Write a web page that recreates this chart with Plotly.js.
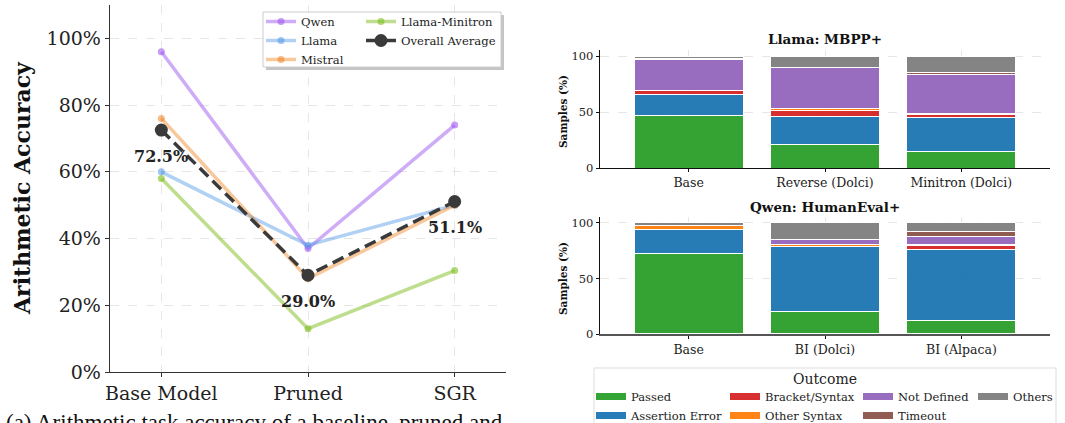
<!DOCTYPE html>
<html>
<head>
<meta charset="utf-8">
<script src="https://cdn.plot.ly/plotly-3.0.1.min.js"></script>
<style>
html,body{margin:0;padding:0;background:#fff;}
#chart{width:1065px;height:423px;}
</style>
</head>
<body>
<div id="chart"></div>
<script>
// ---------- Left panel: arithmetic accuracy ----------
const lineCats = ['Base Model', 'Pruned', 'SGR'];
const qwenAcc = [96, 37, 74];
const llamaAcc = [60, 38, 50];
const mistralAcc = [76, 28, 50];
const minitronAcc = [58, 13, 30.4];
const overallAvg = [72.5, 29.0, 51.1];
const pctTicks = [0, 20, 40, 60, 80, 100];

// ---------- Right panels: outcome breakdown ----------
const llamaCats = ['Base', 'Reverse (Dolci)', 'Minitron (Dolci)'];
const qwenCats = ['Base', 'BI (Dolci)', 'BI (Alpaca)'];
const outcomeNames = ['Passed', 'Assertion Error', 'Bracket/Syntax', 'Other Syntax', 'Not Defined', 'Timeout', 'Others'];
const outcomeColors = ['#2ca02c', '#1f77b4', '#d62728', '#ff7f0e', '#9467bd', '#8c564b', '#7f7f7f'];
const outcomeLegend = ['legend2', 'legend2', 'legend3', 'legend3', 'legend4', 'legend4', 'legend5'];

const llamaPassed = [47, 21, 14.5];
const llamaAssertion = [19, 25, 30.5];
const llamaBracket = [3, 5, 2.5];
const llamaOtherSyntax = [0.5, 2, 1];
const llamaNotDefined = [27.5, 36.5, 35];
const llamaTimeout = [0.5, 0.5, 1.5];
const llamaOthers = [2.5, 10, 15];

const qwenPassed = [72.5, 20, 12.5];
const qwenAssertion = [22, 58.5, 64];
const qwenBracket = [0, 0, 3.5];
const qwenOtherSyntax = [3, 2, 0.5];
const qwenNotDefined = [0, 4.5, 7];
const qwenTimeout = [0, 0, 5];
const qwenOthers = [2.5, 15, 7.5];

const llamaSeries = [llamaPassed, llamaAssertion, llamaBracket, llamaOtherSyntax, llamaNotDefined, llamaTimeout, llamaOthers];
const qwenSeries = [qwenPassed, qwenAssertion, qwenBracket, qwenOtherSyntax, qwenNotDefined, qwenTimeout, qwenOthers];

const SERIF = 'DejaVu Serif, serif';
const W = 1065, H = 423;
const px = v => v / W;
const py = v => 1 - v / H;

const traces = [];
function lineTrace(name, y, color, mcolor, legendId) {
  return {
    type: 'scatter', mode: 'lines+markers', name: name,
    x: [0, 1, 2], y: y, xaxis: 'x', yaxis: 'y',
    line: {color: color, width: 3.5},
    marker: {color: mcolor, size: 7},
    legend: legendId, hoverinfo: 'skip'
  };
}
traces.push(lineTrace('Qwen', qwenAcc, 'rgba(160,90,240,0.5)', 'rgba(160,90,240,0.6)', 'legend'));
traces.push(lineTrace('Llama', llamaAcc, 'rgba(80,150,230,0.45)', 'rgba(80,150,230,0.55)', 'legend'));
traces.push(lineTrace('Mistral', mistralAcc, 'rgba(240,130,30,0.45)', 'rgba(240,130,30,0.55)', 'legend'));
traces.push(lineTrace('Llama-Minitron', minitronAcc, 'rgba(125,190,30,0.5)', 'rgba(125,190,30,0.6)', 'legend6'));
traces.push({
  type: 'scatter', mode: 'lines+markers', name: 'Overall Average',
  x: [0, 1, 2], y: overallAvg, xaxis: 'x', yaxis: 'y',
  line: {color: '#3a3a3a', width: 3.5, dash: '12px,6px'},
  marker: {color: '#3a3a3a', size: 13},
  legend: 'legend6', hoverinfo: 'skip'
});

outcomeNames.forEach((name, i) => {
  traces.push({
    type: 'bar', name: name, x: llamaCats, y: llamaSeries[i],
    xaxis: 'x2', yaxis: 'y2', width: 0.8,
    marker: {color: outcomeColors[i], line: {color: 'white', width: 1}},
    opacity: 0.96, showlegend: false, hoverinfo: 'skip'
  });
  traces.push({
    type: 'bar', name: name, x: qwenCats, y: qwenSeries[i],
    xaxis: 'x3', yaxis: 'y3', width: 0.8,
    marker: {color: outcomeColors[i], line: {color: 'white', width: 1}},
    opacity: 0.96, showlegend: false, hoverinfo: 'skip'
  });
});
// legend-only entries (rectangular swatches) for the outcome legend
outcomeNames.forEach((name, i) => {
  traces.push({
    type: 'scatter', mode: 'lines', name: name, x: [null], y: [null],
    xaxis: 'x2', yaxis: 'y2',
    line: {color: outcomeColors[i], width: 7},
    opacity: 0.96, legend: outcomeLegend[i], showlegend: true, hoverinfo: 'skip'
  });
});

const gridCommon = {showgrid: true, gridcolor: '#e6e6e6', griddash: 'dash', gridwidth: 1, zeroline: false};

function paperText(x, y, text, size, extra) {
  return Object.assign({
    xref: 'paper', yref: 'paper', x: px(x), y: py(y),
    xanchor: 'center', yanchor: 'middle',
    text: text, showarrow: false,
    font: {family: SERIF, size: size, color: '#111'}
  }, extra || {});
}

const annotations = [];
overallAvg.forEach((v, i) => {
  annotations.push({
    xref: 'x', yref: 'y', x: i, y: v, yshift: -26,
    xanchor: 'center', yanchor: 'middle',
    text: '<b>' + v.toFixed(1) + '%</b>', showarrow: false,
    font: {family: SERIF, size: 16, color: '#222'}
  });
});
annotations.push(paperText(22, 188, '<b>Arithmetic Accuracy</b>', 22, {textangle: -90}));
annotations.push(paperText(825, 39, '<b>Llama: MBPP+</b>', 13.5));
annotations.push(paperText(825, 207, '<b>Qwen: HumanEval+</b>', 13.5));
annotations.push(paperText(563, 112, '<b>Samples (%)</b>', 10.5, {textangle: -90}));
annotations.push(paperText(563, 279, '<b>Samples (%)</b>', 10.5, {textangle: -90}));
annotations.push(paperText(825, 379, 'Outcome', 14, {font: {family: SERIF, size: 14, color: '#222'}}));
annotations.push(paperText(4, 408, '(a) Arithmetic task accuracy of a baseline, pruned and', 23, {
  xanchor: 'left', yanchor: 'top',
  font: {family: 'Liberation Serif, serif', size: 23, color: '#111'}
}));

const rightX = {
  ...gridCommon, showline: true, linecolor: '#111', linewidth: 1.3,
  ticks: 'outside', ticklen: 3, tickcolor: '#111',
  tickfont: {family: SERIF, size: 12.5, color: '#222'},
  range: [-0.65, 2.65]
};
const rightY = {
  ...gridCommon, showline: true, linecolor: '#111', linewidth: 1.3,
  ticks: 'outside', ticklen: 3, tickcolor: '#111',
  tickvals: [0, 50, 100], range: [0, 105],
  tickfont: {family: SERIF, size: 11.5, color: '#222'}
};

function legendAt(x, y, size) {
  return {
    x: px(x), y: py(y), xanchor: 'left', yanchor: 'top',
    orientation: 'v', bgcolor: 'rgba(0,0,0,0)', borderwidth: 0,
    font: {family: SERIF, size: size, color: '#222'},
    traceorder: 'normal', itemwidth: 30
  };
}

const layout = {
  width: W, height: H,
  margin: {l: 0, r: 0, t: 0, b: 0, autoexpand: false},
  paper_bgcolor: 'white', plot_bgcolor: 'white',
  barmode: 'stack', bargap: 0.2,
  font: {family: SERIF, color: '#222'},
  xaxis: {
    ...gridCommon, domain: [px(110), px(506)], range: [-0.35, 2.35],
    tickvals: [0, 1, 2], ticktext: lineCats,
    showline: true, linecolor: '#333', linewidth: 1.3,
    ticks: 'outside', ticklen: 4, tickcolor: '#333',
    tickfont: {family: SERIF, size: 19, color: '#222'}
  },
  yaxis: {
    ...gridCommon, domain: [1 - 372 / H, 1 - 5 / H], range: [0, 110],
    tickvals: pctTicks, ticktext: pctTicks.map(v => v + '%'),
    showline: true, linecolor: '#333', linewidth: 1.3,
    ticks: 'outside', ticklen: 4, tickcolor: '#333',
    tickfont: {family: SERIF, size: 19, color: '#222'}
  },
  xaxis2: {...rightX, anchor: 'y2', domain: [px(600), px(1050)]},
  yaxis2: {...rightY, anchor: 'x2', domain: [1 - 168 / H, 1 - 50.4 / H]},
  xaxis3: {...rightX, anchor: 'y3', domain: [px(600), px(1050)], linecolor: '#555', linewidth: 1.6},
  yaxis3: {...rightY, anchor: 'x3', domain: [1 - 334 / H, 1 - 217.4 / H]},
  legend: legendAt(261, 7, 11.6),
  legend6: legendAt(361, 7, 11.6),
  legend2: legendAt(591, 382, 11.5),
  legend3: legendAt(725, 382, 11.5),
  legend4: legendAt(858, 382, 11.5),
  legend5: legendAt(973, 382, 11.5),
  shapes: [
    {type: 'rect', xref: 'paper', yref: 'paper', layer: 'above',
     x0: px(266), x1: px(504), y0: py(70), y1: py(15),
     fillcolor: '#c4c4c4', line: {width: 0}},
    {type: 'rect', xref: 'paper', yref: 'paper', layer: 'above',
     x0: px(263), x1: px(501), y0: py(67), y1: py(12),
     fillcolor: 'white', line: {color: '#cccccc', width: 1}},
    {type: 'rect', xref: 'paper', yref: 'paper', layer: 'above',
     x0: px(594), x1: px(1056), y0: py(430), y1: py(368),
     fillcolor: 'white', line: {color: '#dddddd', width: 1}}
  ],
  annotations: annotations,
  showlegend: true
};

Plotly.newPlot('chart', traces, layout, {displayModeBar: false, staticPlot: true});
</script>
</body>
</html>
